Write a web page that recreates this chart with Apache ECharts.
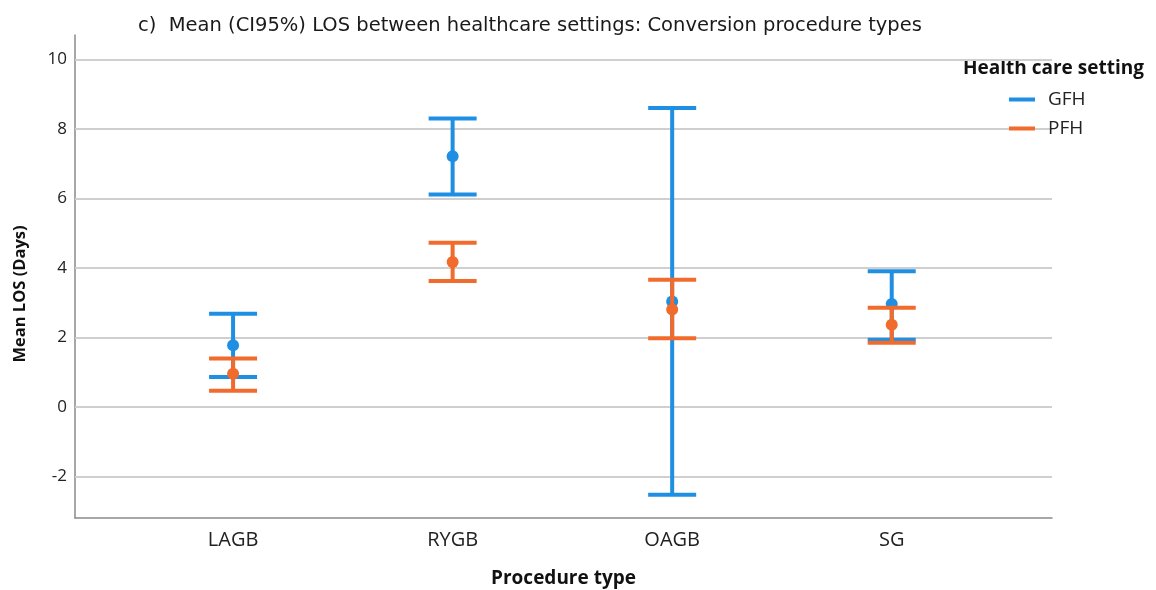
<!DOCTYPE html>
<html><head><meta charset="utf-8">
<script src="https://cdn.jsdelivr.net/npm/echarts@6/dist/echarts.min.js"></script>
<style>html,body{margin:0;padding:0;background:#fff}#c{width:1156px;height:590px}</style>
</head><body><div id="c"></div>
<script>
var categories = ['LAGB', 'RYGB', 'OAGB', 'SG'];
var gfhMean  = [1.77, 7.21, 3.03, 2.96];
var gfhLower = [0.86, 6.11, -2.53, 1.93];
var gfhUpper = [2.68, 8.30, 8.60, 3.90];
var pfhMean  = [0.95, 4.17, 2.80, 2.36];
var pfhLower = [0.46, 3.62, 1.97, 1.84];
var pfhUpper = [1.39, 4.72, 3.66, 2.85];
var yTicks = [-2, 0, 2, 4, 6, 8, 10];

var BLUE = '#1f8fe3', ORANGE = '#f06b2c';
var FONT = '"Open Sans", "DejaVu Sans", sans-serif';

function build(mean, lo, hi) {
  return categories.map(function (c, i) { return [i, mean[i], lo[i], hi[i]]; });
}
function renderErr(color) {
  return function (params, api) {
    var x = api.value(0);
    var pm = api.coord([x, api.value(1)]);
    var pl = api.coord([x, api.value(2)]);
    var ph = api.coord([x, api.value(3)]);
    var hw = 24;
    var st = { stroke: color, lineWidth: 4 };
    return { type: 'group', children: [
      { type: 'line', shape: { x1: pl[0], y1: pl[1], x2: ph[0], y2: ph[1] }, style: st },
      { type: 'line', shape: { x1: pl[0] - hw, y1: pl[1], x2: pl[0] + hw, y2: pl[1] }, style: st },
      { type: 'line', shape: { x1: ph[0] - hw, y1: ph[1], x2: ph[0] + hw, y2: ph[1] }, style: st },
      { type: 'circle', shape: { cx: pm[0], cy: pm[1], r: 6 }, style: { fill: color } }
    ]};
  };
}

var chart = echarts.init(document.getElementById('c'), null, { renderer: 'canvas' });
chart.setOption({
  animation: false,
  backgroundColor: '#fff',
  title: {
    text: 'c)  Mean (CI95%) LOS between healthcare settings: Conversion procedure types',
    left: 133, top: 11,
    textStyle: { fontFamily: '"DejaVu Sans", sans-serif', fontSize: 19.5, fontWeight: 'normal', color: '#1a1a1a' }
  },
  graphic: [
    {
      type: 'text', left: 963, top: 59,
      style: { text: 'Health care setting', font: 'bold 19px ' + FONT, fill: '#111' }
    },
    {
      type: 'text', x: 20, y: 294, rotation: Math.PI / 2,
      style: { text: 'Mean LOS (Days)', font: 'bold 16.5px ' + FONT, fill: '#111', align: 'center', verticalAlign: 'middle' }
    }
  ],
  legend: {
    orient: 'vertical', left: 1004, top: 85, itemGap: 10,
    icon: 'rect', itemWidth: 26, itemHeight: 4,
    textStyle: { fontFamily: FONT, fontSize: 19, color: '#222', padding: [0, 0, 0, 8] },
    data: [
      { name: 'GFH', itemStyle: { color: BLUE, opacity: 1, borderWidth: 0 } },
      { name: 'PFH', itemStyle: { color: ORANGE, opacity: 1, borderWidth: 0 } }
    ]
  },
  grid: { left: 75, right: 104, top: 35, bottom: 72, containLabel: false, outerBoundsMode: 'none' },
  xAxis: {
    type: 'value', min: -0.72, max: 3.73,
    name: 'Procedure type', nameLocation: 'middle', nameGap: 51,
    nameTextStyle: { fontFamily: FONT, fontSize: 19, fontWeight: 'bold', color: '#111' },
    axisLine: { show: true, onZero: false, lineStyle: { color: '#8a8a8a', width: 1.5 } },
    axisTick: { show: false },
    splitLine: { show: false },
    axisLabel: {
      customValues: [0, 1, 2, 3], margin: 12,
      formatter: function (v) { return categories[Math.round(v)]; },
      fontFamily: FONT, fontSize: 20, color: '#222'
    }
  },
  yAxis: {
    type: 'value', min: -3.2, max: 10.7,
    axisLine: { show: true, onZero: false, lineStyle: { color: '#8a8a8a', width: 1.5 } },
    axisTick: { show: false },
    splitLine: { show: false },
    axisLabel: {
      customValues: yTicks, margin: 8,
      fontFamily: FONT, fontSize: 17, color: '#222'
    }
  },
  series: [
    {
      type: 'line', data: [], z: 1, silent: true,
      markLine: {
        silent: true, symbol: 'none', z: 1, label: { show: false },
        lineStyle: { color: '#cfcfcf', width: 2, type: 'solid' },
        data: yTicks.map(function (v) { return { yAxis: v }; })
      }
    },
    {
      name: 'GFH', type: 'custom', z: 3, itemStyle: { color: BLUE },
      renderItem: renderErr(BLUE), encode: { x: 0, y: [1, 2, 3] },
      data: build(gfhMean, gfhLower, gfhUpper)
    },
    {
      name: 'PFH', type: 'custom', z: 4, itemStyle: { color: ORANGE },
      renderItem: renderErr(ORANGE), encode: { x: 0, y: [1, 2, 3] },
      data: build(pfhMean, pfhLower, pfhUpper)
    }
  ]
});
</script></body></html>
